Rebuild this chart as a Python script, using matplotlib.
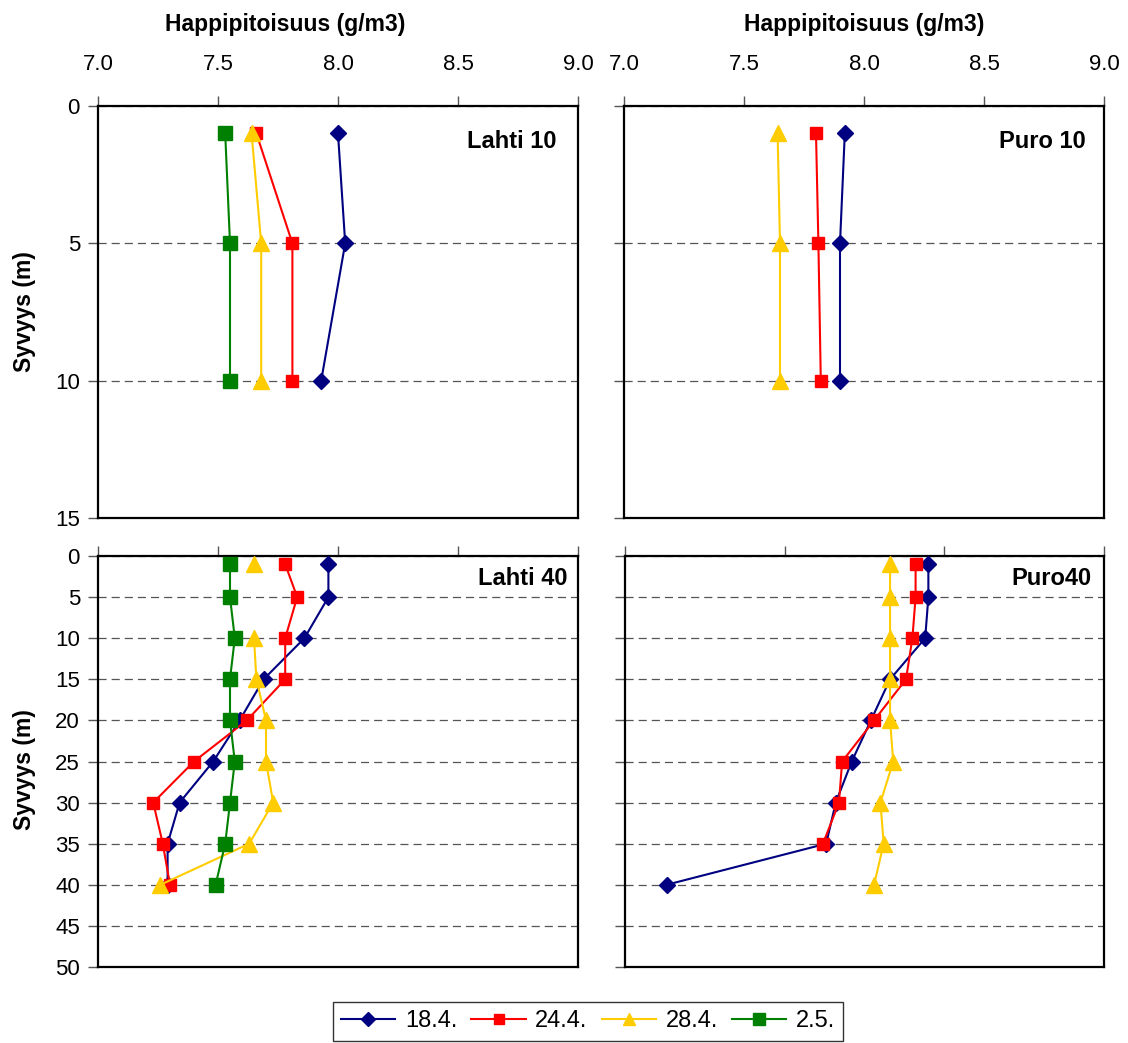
import numpy as np
import matplotlib
matplotlib.use("Agg")
import matplotlib.pyplot as plt

plt.rcParams['font.family'] = ['Liberation Sans', 'DejaVu Sans']

# depths (m)
depth_10 = [1, 5, 10]
depth_40 = [1, 5, 10, 15, 20, 25, 30, 35, 40]

# dissolved oxygen (g/m3) per sampling date
lahti10_184 = [8.00, 8.03, 7.93]
lahti10_244 = [7.66, 7.81, 7.81]
lahti10_284 = [7.64, 7.68, 7.68]
lahti10_25 = [7.53, 7.55, 7.55]

puro10_184 = [7.92, 7.90, 7.90]
puro10_244 = [7.80, 7.81, 7.82]
puro10_284 = [7.64, 7.65, 7.65]

lahti40_184 = [7.96, 7.96, 7.86, 7.69, 7.59, 7.48, 7.34, 7.29, 7.29]
lahti40_244 = [7.78, 7.83, 7.78, 7.78, 7.62, 7.40, 7.23, 7.27, 7.30]
lahti40_284 = [7.65, np.nan, 7.65, 7.66, 7.70, 7.70, 7.73, 7.63, 7.26]
lahti40_25 = [7.55, 7.55, 7.57, 7.55, 7.55, 7.57, 7.55, 7.53, 7.49]

puro40_184 = [7.95, 7.95, 7.94, 7.83, 7.77, 7.71, 7.66, 7.63, 7.13]
puro40_244 = [7.91, 7.91, 7.90, 7.88, 7.78, 7.68, 7.67, 7.62, np.nan]
puro40_284 = [7.83, 7.83, 7.83, 7.83, 7.83, 7.84, 7.80, 7.81, 7.78]

dates = ["18.4.", "24.4.", "28.4.", "2.5."]
colors = ["#000080", "#FF0000", "#FFCC00", "#008000"]
markers = ["D", "s", "^", "s"]
msizes = [8.5, 8.5, 11, 10]

W, H = 1128, 1043
fig = plt.figure(figsize=(W / 100, H / 100), dpi=100)


def rect(l, t, r, b):
    return [l / W, 1 - b / H, (r - l) / W, (b - t) / H]


def style_axes(ax, ylim, yticks, ylabels, xlim, xticks, xlabels):
    ax.set_ylim(ylim[1], ylim[0])
    ax.set_xlim(*xlim)
    ax.set_yticks(yticks)
    ax.set_xticks(xticks)
    ax.xaxis.tick_top()
    ax.tick_params(axis='x', which='both', bottom=False, top=True, labeltop=xlabels,
                   labelbottom=False, direction='out', length=7, width=1,
                   color='#555555', pad=15, labelsize=16)
    ax.tick_params(axis='y', direction='out', length=7, width=1,
                   color='#555555', pad=6, labelsize=16, labelleft=ylabels)
    if xlabels:
        ax.set_xticklabels([f"{v:.1f}" for v in xticks])
    for s in ax.spines.values():
        s.set_linewidth(1.6)
        s.set_color('black')
    ax.yaxis.grid(True, linestyle=(0, (6.5, 4)), color='#555555', linewidth=0.9)
    ax.set_axisbelow(True)


def plot_series(ax, depth, series):
    for vals, c, m, ms in zip(series, colors, markers, msizes):
        if vals is None:
            continue
        ax.plot(vals, depth, color=c, marker=m, markersize=ms, linewidth=1.5,
                markeredgecolor=c, clip_on=False, zorder=3)


ax1 = fig.add_axes(rect(98, 106, 578, 518))
plot_series(ax1, depth_10, [lahti10_184, lahti10_244, lahti10_284, lahti10_25])
style_axes(ax1, (0, 15), [0, 5, 10, 15], True, (7.0, 9.0), [7.0, 7.5, 8.0, 8.5, 9.0], True)
ax1.text(0.956, 0.915, "Lahti 10", transform=ax1.transAxes, ha='right', va='center',
         fontsize=17, fontweight='bold')

ax2 = fig.add_axes(rect(624, 106, 1104, 518))
plot_series(ax2, depth_10, [puro10_184, puro10_244, puro10_284, None])
style_axes(ax2, (0, 15), [0, 5, 10, 15], False, (7.0, 9.0), [7.0, 7.5, 8.0, 8.5, 9.0], True)
ax2.text(0.9625, 0.915, "Puro 10", transform=ax2.transAxes, ha='right', va='center',
         fontsize=17, fontweight='bold')

ax3 = fig.add_axes(rect(98, 556, 578, 967))
plot_series(ax3, depth_40, [lahti40_184, lahti40_244, lahti40_284, lahti40_25])
style_axes(ax3, (0, 50), list(range(0, 51, 5)), True, (7.0, 9.0), [7.0, 7.5, 8.0, 8.5, 9.0], False)
ax3.text(0.979, 0.946, "Lahti 40", transform=ax3.transAxes, ha='right', va='center',
         fontsize=17, fontweight='bold')

ax4 = fig.add_axes(rect(625, 556, 1104, 967))
plot_series(ax4, depth_40, [puro40_184, puro40_244, puro40_284, None])
style_axes(ax4, (0, 50), list(range(0, 51, 5)), False, (7.0, 8.5), [7.0, 7.5, 8.0, 8.5], False)
ax4.text(0.973, 0.946, "Puro40", transform=ax4.transAxes, ha='right', va='center',
         fontsize=17, fontweight='bold')

# axis titles
fig.text(285 / W, 1 - 24 / H, "Happipitoisuus (g/m3)", ha='center', va='center',
         fontsize=16.5, fontweight='bold')
fig.text(864 / W, 1 - 24 / H, "Happipitoisuus (g/m3)", ha='center', va='center',
         fontsize=16.5, fontweight='bold')
fig.text(25 / W, 1 - 312 / H, "Syvyys (m)", ha='center', va='center', rotation=90,
         fontsize=16.5, fontweight='bold')
fig.text(25 / W, 1 - 770 / H, "Syvyys (m)", ha='center', va='center', rotation=90,
         fontsize=16.5, fontweight='bold')

# legend
handles = []
for c, m, ms in zip(colors, markers, msizes):
    h, = ax1.plot([], [], color=c, marker=m, markersize=ms * 0.8, linewidth=1.5,
                  markeredgecolor=c)
    handles.append(h)
leg = fig.legend(handles, dates, loc='upper center', bbox_to_anchor=(588 / W, 1 - 1002 / H),
                 ncol=4, fontsize=17, frameon=True, fancybox=False, shadow=False,
                 handlelength=2.3, handletextpad=0.4, columnspacing=0.6,
                 borderpad=0.35, borderaxespad=0)
leg.get_frame().set_edgecolor('black')
leg.get_frame().set_linewidth(1.0)

fig.savefig("out.png", dpi=100)
